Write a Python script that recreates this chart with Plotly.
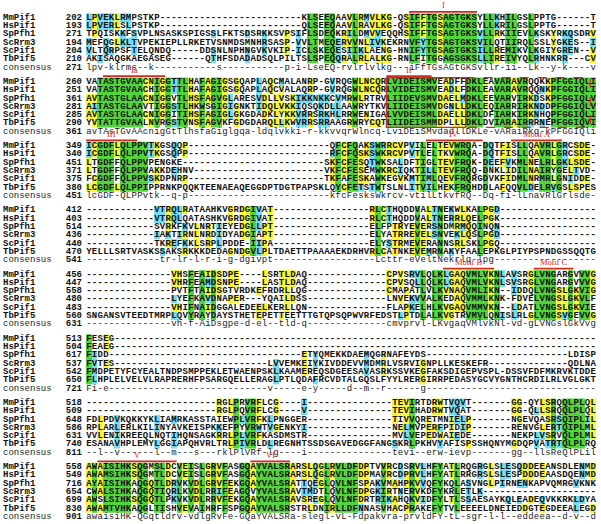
import numpy as np
import plotly.graph_objects as go

# ---------------- data ----------------
names = ["MmPif1", "HsPif1", "SpPfh1", "ScRrm3", "ScPif1", "TbPif5", "consensus"]

block1 = [
    "LPVEKLRMPSTKP" + "-" * 25 + "KLSEEQAAVLRMVLKG-QSIFFTGSAGTGKSYLLKHILGSLPPTG------T",
    "LPVERLSLPSTKP" + "-" * 25 + "QLSEEQAAVLRAVLKG-QSIFFTGSAGTGKSYLLKRILGSLPPTG------T",
    "TPQISKKFSVPLNSASKSPIGSSLFKTSDSRKKSVPSIFLSDEQKRILDMVVEQQHSIFFTGSAGTGKSVLLRKIIEVLKSKYRKQSDRV",
    "MEFQGLKLTVPEKIEPLLRKETVSNMDSMNHRSASP-VVLTMEQERVVNLIVKEKRNVFYTGSAGTGKSVILQTIIRQLSSLYGKES--I",
    "VLTQRPSFTELQNDQ-----DDSNLNPHNGVKVKIP-ICLSKEQESIIKLAENG-HNIFYTGSAGTGKSILLREMIKVLKGIYGREN--V",
    "AKISAQGKAEGASEG------QTHFSDADADSQLPILTSLSPEQQRALRLALKG-RNLFITGGAGSGKSLLIREIVYQLRHNKRR---CV",
    "lpv-klrms--k-----------s-----------p-i-LseEQ-rvlrlvlkg---iFfTGsAGtGKSvllr-ii--Lk--y-k----v",
]
block2 = [
    "VATASTGVAACNIGGTTLHAFAGIGSGQAPLAQCMALANRP-GVRQGWLNCQRLVIDEISMVEADFFDKLEAVARAVRQQKKPFGGIQLI",
    "VATASTGVAACHIGGTTLHAFAGIGSGQAPLAQCVALAQRP-GVRQGWLNCQRLVIDEISMVEADLFDKLEAVARAVRQQNKPFGGIQLI",
    "AVTASTGLAACNIGGVTLHSFAGVGLARESVDLLVSKIKKNKKCVMRWLRTRVLIIDEVSMVDAELMDKLEEVARVIRKDSKPFGGIQLV",
    "AITASTGLAAVTIGGSTLHKWSGIGIGNKTIDQLVKKIQSQKDLLAAWRYTKVLIIDEISMVDGNLLDKLEQIARRIRKNDDPFGGIQLV",
    "AVTASTGLAACNIGGITIHSFAGIGLGKGDADKLYKKVRRSRKHLRRWENIGALVVDEISMLDAELLDKLDFIARKIRKNHQPFGGIQLI",
    "YVTATTGVAALNVRGSTVNSFAGVKFGDGDARQLLKWVRRSRRAAGRWRYCQTLIIDEISMMDPLLLDKLDVIARAIRRRNEPFGGIQVI",
    "avTAsTGvAAcnigGtTlhsfaGiglgqa-ldqlvkki-r-kkvvqrWlncq-LviDEiSMvdadllDKLe-vARaiRkq-kPFGGIQli",
]
block3 = [
    "ICGDFLQLPPVTKGSQQP" + "-" * 25 + "QFCFQAKSWRRCVPVILELTEVWRQA-DQTFISLLQAVRLGRCSDE-",
    "ICGDFLQLPPVTKGSQPP" + "-" * 25 + "RFCFQSKSWKRCVPVTLELTKVWRQA-DQTFISLLQAVRLGRCSDE-",
    "LTGDFFQLPPVPENGKE" + "-" * 25 + "SKFCFESQTWKSALDFTIGLTEVFRQK-DEEFVKMLNELRLGKLSDE-",
    "LTGDFFQLPPVAKKDEHNV" + "-" * 23 + "VKFCFESEMWKRCIQKTILLTEVFRQQ-DNKLIDILNAIRYGELTVD-",
    "FCGDFFQLPPVSKDPNRP" + "-" * 24 + "TKFAFESKAWKEGVKMTIMLQEVFRQRGDVKFIDMLNRMRLGNIDDE-",
    "LCGDFLQLPPIPPRNKPQQKTEENAEAQEGGDPTDGTPAPSKLQYCFETSTWTSLNLITVILHEKFRQHDDLAFQQVLDELRVGSLSPES",
    "lcGDF-QLPPvtk--q-p" + "-" * 25 + "kfcFesksWkrcv-vtilLtkvfRQ--Dq-fi-lLnavRlGrlsde-",
]
block4 = [
    "-" * 12 + "VTRQLRATAAHKVGRDGIVAT" + "-" * 17 + "RLCTHQDDVALTNEKWLKALPGD" + "-" * 17,
    "-" * 12 + "VTRQLQATASHKVGRDGIVAT" + "-" * 17 + "RLCTHQDDVALTNERRLQELPGK" + "-" * 17,
    "-" * 12 + "SVRKFKVLNRTIEYEDGLLPT" + "-" * 17 + "ELFPTRYEVERSNDMRMQQINQN" + "-" * 17,
    "-" * 12 + "IAKTIRNLNRDIDYADGIAPT" + "-" * 17 + "ELYATRREVELSNVEKLQSLPGD" + "-" * 17,
    "-" * 12 + "TKREFKKLSRPLPDDE-IIPA" + "-" * 17 + "ELYSTRMEVERANNSRLSKLPGQ" + "-" * 17,
    "YELLLSRTVASKSSAKSRKKKDEDAGNDGVLPLTDAETTPAAAAEKDRHVRLCATNKEVEMRNAKYFAALEPKGLPIYPSPNDGSSQQTG",
    "-" * 13 + "tr-lr-l-r-i-g-dgivpt" + "-" * 18 + "Lcttr-eVeltNekrlq-lpg" + "-" * 18,
]
block5 = [
    "-" * 15 + "VHSFEAIDSDPE----LSRTLDAQ" + "-" * 14 + "CPVSRVLQLKLGAQVMLVKNLAVSRGLVNGARGVVVG",
    "-" * 15 + "VHRFEAMDSNPE----LASTLDAQ" + "-" * 14 + "CPVSQLLQLKLGAQVMLVKNLSVSRGLVNGARGVVVG",
    "-" * 15 + "PVTFTAIDSGTVRDKEFRDRLLQG" + "-" * 14 + "CMAPATLVLKVNAQVMLIKN--IDDQLVNGSLGKVIG",
    "-" * 15 + "LYEFKAVDNAPER---YQAILDSS" + "-" * 14 + "LNVEKVVALKEDAQVMMLKNK-FDVELVNGSLGKVLF",
    "-" * 15 + "VHIFNAIDGGALEDEELKERLLQN" + "-" * 14 + "FLAPKELHLKVGAQVMMVKN--LDATLVNGSLGKVIE",
    "SNGANSVTEEDTMRPLQVYRAYDAYSTHETEPETTEETTTGTQPSQPWVRFEDSTLPTDLALKVGTRVMVLQNISLRLGLVNGSVGEVVG",
    "-" * 15 + "vh-f-AiDsgpe-d-el--tld-q" + "-" * 14 + "cmvprvl-LKvgaqVMlvkNl-vd-gLVNGslGkVvg",
]
block6 = [
    "FESEG" + "-" * 85,
    "FEAEG" + "-" * 85,
    "FIDD" + "-" * 34 + "ETYQMEKKDAEMQGRNAFEYDS" + "-" * 25 + "LDISP",
    "FVTES" + "-" * 27 + "LVVEMKEIYKIVDDEVVMDMRLVSRVIGNPLLKESKEFR" + "-" * 14 + "QDLNA",
    "FMDPETYFCYEALTNDPSMPPEKLETWAENPSKLKAAMEREQSDGEESAVASRKSSVKEGFAKSDIGEPVSPL-DSSVFDFMKRVKTDDE",
    "FLHPLELVELVLRAPRERHFPSARGQELLERAGLPTLQDAFRCVDTALGQSLFYYLRERGIRRPEDASYGCVYGNTHCRDILRLVGLGKT",
    "Fi-e" + "-" * 28 + "v-----e-y-----d--m--r------g" + "-" * 30,
]
block7 = [
    "-" * 23 + "RGLPRVRFLCG----I" + "-" * 15 + "TEVIRTDRWTVQVT" + "-" * 7 + "GG-QYLSRQQLPLQL",
    "-" * 23 + "RGLPQVRFLCG----V" + "-" * 15 + "TEVIHADRWTVQAT" + "-" * 7 + "GG-QLLSRQQLPLQL",
    "FDLPDVKQKKYKLIAMRKASSTAIEWPLVRFKLPNGGER" + "-" * 15 + "TIVVQRETMNIELP" + "-" * 7 + "NGEVQASRSQIPLIL",
    "RPLARLERLKILINYAVKEISPKKEFPYVRWTVGENKYI" + "-" * 15 + "NELMVPERFPIDIP" + "-" * 7 + "RENVGLERTQIPLML",
    "VVLENIKREEQLNQTIHQNSAGKRRLPLVRFKASDMSTR" + "-" * 15 + "MVLVEPEDWAIEDE" + "-" * 7 + "NEKPLVSRVQLPLML",
    "ESANAVHPLEMYLGGIAPQHVRLTRLPIVRLDLREGNHTSSDSGAVEDGGFANGSKRLPKHVYAFISPSSHQNYMGDQPVATRTQLPLRQ",
    "--l--v------l--m---s---rklPlVRf-lg----i" + "-" * 15 + "tevi--erw-ievp" + "-" * 7 + "gg--llsReQlPLil",
]
block8 = [
    "AWAISIHKSQGMSLDCVEISLGRVFASGQAYVALSRARSLQGLRVLDFDPTVVRCDSRVLHFYATLRQGRGLSLESQDDEEANSDLENMD",
    "AWAMSIHKSQGMTLDCVEISLGRVFASGQAYVALSRARSLQGLRVLDFDPMAVRCDPRVLHFYATLRRGRSLSLESPDDDEAASDQENMD",
    "AYAISIHKAQGQTLDRVKVDLGRVFEKGQAYVALSRATTQEGLQVLNFSPAKVMAHPKVVQFYKQLASVNGLPIRNENKAPVQMRGVKNK",
    "CWALSIHKAQGQTIQRLKVDLRRIFEAGQVYVALSRAVTMDTLQVLNFDPGKIRTNERVKDFYKRLETLK" + "-" * 20,
    "AWSLSIHKSQGQTLPKVKVDLRRVFEKGQAYVALSRAVSREGLQVLNFDRTRIKAHQKVIDFYLTLSSAESAYKQLEADEQVKKRKLDYA",
    "AWAMTVHKAQGLTISHVEVAIHRFFSPGQAYVALSRSTRLDNIRLLDFNNASVHACPRAKEFYTVLEEEELDNEIEDDGTEGDEEALEGD",
    "awaisiHK-QGqtldrv-vdlgRvFe-GQaYVALSRa-slegl-vL-Fdpakvra-prvldFY-tL-sgr-l-l--eddeea--d-v--d",
]
blocks = [block1, block2, block3, block4, block5, block6, block7, block8]

start_numbers = [
    [202, 193, 271, 194, 204, 210, 271],
    [260, 251, 361, 281, 285, 290, 361],
    [349, 340, 451, 371, 375, 380, 451],
    [412, 403, 514, 436, 440, 470, 541],
    [456, 447, 558, 480, 483, 560, 631],
    [513, 504, 617, 537, 542, 650, 721],
    [518, 509, 648, 586, 631, 740, 811],
    [558, 549, 716, 654, 699, 830, 901],
]

# motif bars: label, block index, first column, last column (1-based)
motif_labels = ["I", "Ia", "II", "III", "IV", "Motif A", "Motif B", "Motif C", "V", "VI"]
motif_blocks = [0, 1, 1, 2, 2, 2, 4, 4, 7, 7]
motif_first = [58, 4, 54, 1, 61, 76, 64, 80, 3, 30]
motif_last = [69, 14, 61, 9, 70, 84, 72, 86, 16, 36]
# boxes around motif regions: block, first column, last column, dashed?
box_blocks = [1, 1]
box_first = [54, 68]
box_last = [67, 89]
box_dashed = [False, True]

# ---------------- layout constants ----------------
W, H = 601, 524
NCOL = 90
X0 = 86.0
PITCH = (596.0 - X0) / NCOL
Y0 = 17.5
BLOCK_STEP = 64.2
ROW_STEP = 8.3

GREEN, YELLOW, CYAN = "#52d43c", "#f5f53c", "#74dcf2"
RED = "#d42a1e"
GROUPS = ["LIVM", "FYW", "KR", "DN", "EQ", "ST"]


def grp(c):
    for g in GROUPS:
        if c in g:
            return g
    return c


def shade(rows):
    z = np.full((6, NCOL), np.nan)
    for j in range(NCOL):
        col = [r[j] for r in rows]
        res = [c for c in col if c.isalpha()]
        if not res:
            continue
        gcount = {}
        for c in res:
            gcount[grp(c)] = gcount.get(grp(c), 0) + 1
        icount = {}
        for c in res:
            icount[c] = icount.get(c, 0) + 1
        best_g = max(gcount, key=lambda g: (gcount[g], max(icount[c] for c in res if grp(c) == g)))
        n_g = gcount[best_g]
        mode = max((c for c in icount if grp(c) == best_g), key=lambda c: icount[c])
        n_i = icount[mode]
        for i, c in enumerate(col):
            if not c.isalpha() or grp(c) != best_g:
                continue
            if n_g == 6:
                z[i, j] = 3
            elif c == mode and n_i >= 3:
                z[i, j] = 2
            elif n_g >= 3:
                z[i, j] = 1
    return z


def fix(s):
    return s[:NCOL].ljust(NCOL, "-")


xs = [X0 + (j + 0.5) * PITCH for j in range(NCOL)]

fig = go.Figure()
colorscale = [[0, CYAN], [0.3333, CYAN], [0.3334, YELLOW], [0.6666, YELLOW], [0.6667, GREEN], [1, GREEN]]

seq_x, seq_y, seq_t = [], [], []
con_x, con_y, con_t = [], [], []
nm_x, nm_y, nm_t = [], [], []
nmc_x, nmc_y, nmc_t = [], [], []
num_x, num_y, num_t = [], [], []

for b, blk in enumerate(blocks):
    rows = [fix(s) for s in blk]
    ys = [Y0 + b * BLOCK_STEP + r * ROW_STEP for r in range(7)]
    z = shade(rows[:6])
    fig.add_trace(go.Heatmap(x=xs, y=ys[:6], z=z, colorscale=colorscale, zmin=0.5, zmax=3.5,
                             showscale=False, hoverinfo="skip", xgap=0, ygap=0))
    for r in range(7):
        for j, ch in enumerate(rows[r]):
            if r < 6:
                seq_x.append(xs[j]); seq_y.append(ys[r]); seq_t.append(ch)
            else:
                con_x.append(xs[j]); con_y.append(ys[r]); con_t.append(ch)
        if r < 6:
            nm_x.append(3); nm_y.append(ys[r]); nm_t.append(names[r])
        else:
            nmc_x.append(3); nmc_y.append(ys[r]); nmc_t.append(names[r])
        num_x.append(82); num_y.append(ys[r]); num_t.append(str(start_numbers[b][r]))

mono = "Liberation Mono, Courier New, monospace"
fig.add_trace(go.Scatter(x=seq_x, y=seq_y, text=seq_t, mode="text", hoverinfo="skip",
                         textfont=dict(family=mono, size=9, color="#111", weight="bold")))
fig.add_trace(go.Scatter(x=con_x, y=con_y, text=con_t, mode="text", hoverinfo="skip",
                         textfont=dict(family=mono, size=9, color="#222")))
fig.add_trace(go.Scatter(x=nm_x, y=nm_y, text=nm_t, mode="text", textposition="middle right",
                         hoverinfo="skip", textfont=dict(family=mono, size=9, color="#111", weight="bold")))
fig.add_trace(go.Scatter(x=nmc_x, y=nmc_y, text=nmc_t, mode="text", textposition="middle right",
                         hoverinfo="skip", textfont=dict(family=mono, size=9, color="#222")))
fig.add_trace(go.Scatter(x=num_x, y=num_y, text=num_t, mode="text", textposition="middle left",
                         hoverinfo="skip", textfont=dict(family=mono, size=9, color="#111", weight="bold")))

shapes = []
annotations = []
for lab, b, c1, c2 in zip(motif_labels, motif_blocks, motif_first, motif_last):
    ytop = Y0 + b * BLOCK_STEP
    xa = X0 + (c1 - 1) * PITCH
    xb = X0 + c2 * PITCH
    yl = ytop - 5.6
    shapes.append(dict(type="line", x0=xa, x1=xb, y0=yl, y1=yl, xref="x", yref="y",
                       line=dict(color=RED, width=1.8)))
    annotations.append(dict(x=(xa + xb) / 2, y=yl - 0.6, text=lab, showarrow=False, xref="x", yref="y",
                            yanchor="bottom", borderpad=0,
                            font=dict(family="Liberation Serif, Times New Roman, serif", size=8.5, color=RED)))

for b, c1, c2, dashed in zip(box_blocks, box_first, box_last, box_dashed):
    ytop = Y0 + b * BLOCK_STEP
    shapes.append(dict(type="rect", xref="x", yref="y",
                       x0=X0 + (c1 - 1) * PITCH, x1=X0 + c2 * PITCH,
                       y0=ytop - ROW_STEP / 2, y1=ytop + 5 * ROW_STEP + ROW_STEP / 2,
                       line=dict(color=RED, width=1.2, dash="dash" if dashed else "solid")))

fig.update_layout(
    width=W, height=H, margin=dict(l=0, r=0, t=0, b=0),
    paper_bgcolor="white", plot_bgcolor="white", showlegend=False,
    xaxis=dict(range=[0, W], visible=False, fixedrange=True),
    yaxis=dict(range=[H, 0], visible=False, fixedrange=True),
    shapes=shapes, annotations=annotations, hovermode=False,
)
fig.write_html("out.html", config={"displayModeBar": False, "staticPlot": True},
               post_script="document.body.style.margin='0';document.body.style.overflow='hidden';")
